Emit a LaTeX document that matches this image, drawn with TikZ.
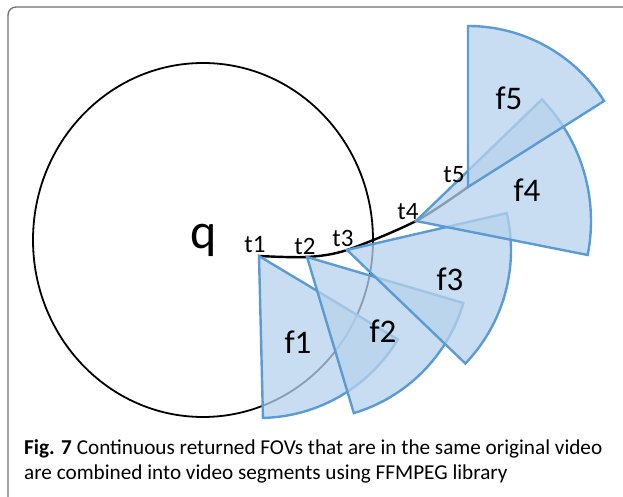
\documentclass[tikz,border=0pt]{standalone}
\usepackage{fontspec}
\setmainfont{Carlito}
\definecolor{fovblue}{HTML}{5B9BD5}
\definecolor{fovfill}{RGB}{182,210,236}
\definecolor{framegray}{RGB}{110,110,110}
\begin{document}
\begin{tikzpicture}[x=1pt,y=1pt,
  fov/.style={draw=fovblue, line width=2.4pt, line join=miter, fill=fovfill, fill opacity=0.75},
  tlab/.style={font=\fontsize{25}{25}\selectfont, inner sep=0pt},
  flab/.style={font=\fontsize{33}{33}\selectfont, inner sep=0pt},
  caplab/.style={anchor=base west, inner sep=0pt, font=\fontsize{21.2}{25}\selectfont},
  traj/.style={line width=2.4pt, black, line cap=round}]
\useasboundingbox (0,0) rectangle (623,497);
% frame
\draw[framegray, line width=1.3pt, rounded corners=8pt] (8,-5) -- (8,490) -- (630,490);
% circle q
\draw[line width=1.8pt] (203,257) ellipse [x radius=170, y radius=177];
\node[font=\fontsize{50}{50}\selectfont, inner sep=0pt] (q) at (204,257) {q};
% trajectory points
\coordinate (t1) at (259,241);
\coordinate (t2) at (307,240);
\coordinate (t3) at (347,247);
\coordinate (t4) at (416,276);
\coordinate (t5) at (468,310);
\draw[traj] plot[smooth, tension=0.5] coordinates {(t1) (t2) (t3) (t4) (t5)};
% FOV sectors
\draw[fov] (t1) -- ++(-88.6:162) arc[start angle=-88.6, end angle=-31, radius=162] -- cycle;
\draw[fov] (t2) -- ++(-73.3:163) arc[start angle=-73.3, end angle=-16.4, radius=163] -- cycle;
\draw[fov] (t3) -- ++(-43.8:164) arc[start angle=-43.8, end angle=13, radius=164] -- cycle;
\draw[fov] (t4) -- ++(-11.2:175) arc[start angle=-11.2, end angle=44, radius=175] -- cycle;
\draw[fov] (t5) -- ++(32.3:161) arc[start angle=32.3, end angle=90, radius=161] -- cycle;
% labels
\node[tlab] (lt1) at (255,252) {t1};
\node[tlab] (lt2) at (305,251) {t2};
\node[tlab] (lt3) at (343,259) {t3};
\node[tlab] (lt4) at (408,285) {t4};
\node[tlab] (lt5) at (454,322) {t5};
\node[flab] (f1) at (298,155) {f1};
\node[flab] (f2) at (383,166) {f2};
\node[flab] (f3) at (450,218) {f3};
\node[flab] (f4) at (527,307) {f4};
\node[flab] (f5) at (509,399) {f5};
% caption
\node[caplab] (cap1) at (24,42)
  {\textbf{Fig. 7} Continuous returned FOVs that are in the same original video};
\node[caplab] (cap2) at (24,17)
  {are combined into video segments using FFMPEG library};
\end{tikzpicture}
\end{document}
